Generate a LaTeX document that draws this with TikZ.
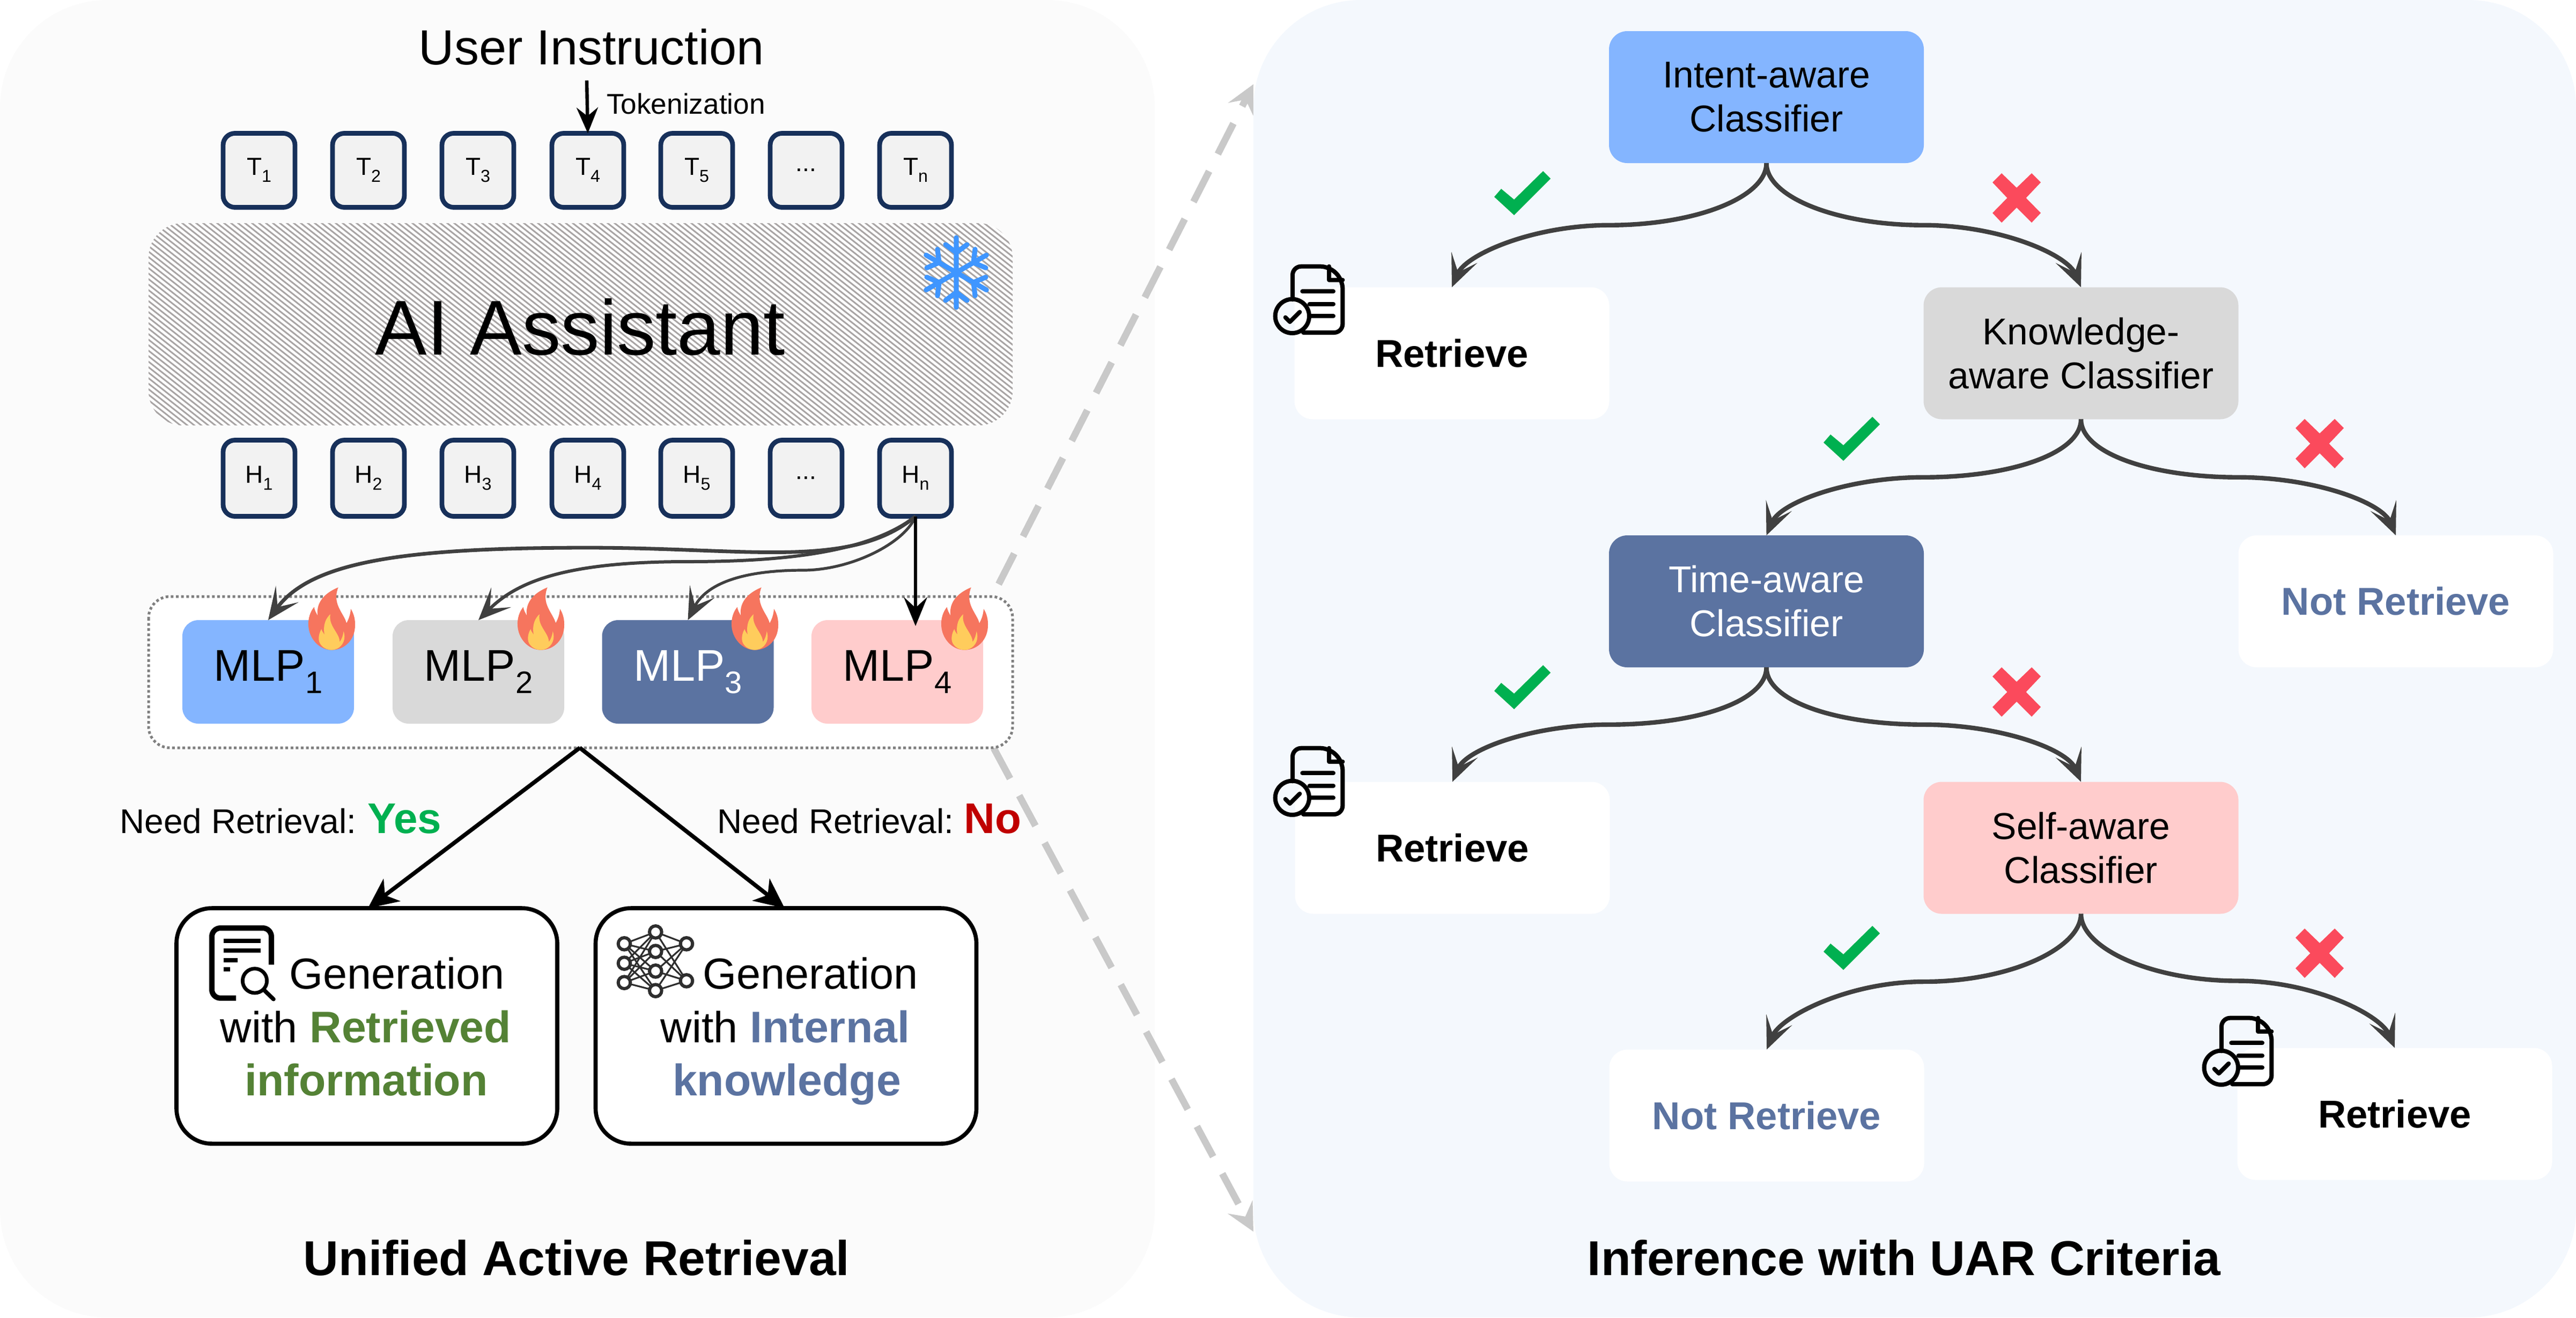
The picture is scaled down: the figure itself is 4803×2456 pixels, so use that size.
\documentclass[tikz,border=0pt]{standalone}
\usepackage{fontspec}
\usepackage{graphicx}
\setmainfont{Liberation Sans}
\usetikzlibrary{arrows.meta,calc}
\definecolor{panelL}{HTML}{FBFBFB}
\definecolor{panelR}{HTML}{F4F8FD}
\definecolor{navy}{HTML}{17305A}
\definecolor{tokfill}{HTML}{F2F2F2}
\definecolor{cblue}{HTML}{84B5FF}
\definecolor{cgray}{HTML}{D9D9D9}
\definecolor{cslate}{HTML}{5B73A1}
\definecolor{cpink}{HTML}{FFCCCC}
\definecolor{edgegray}{HTML}{404040}
\definecolor{dashgray}{HTML}{C9C9C9}
\definecolor{dotgray}{HTML}{7F7F7F}
\definecolor{hatch}{HTML}{A8A4A4}
\definecolor{flameo}{HTML}{F6755E}
\definecolor{flamey}{HTML}{FFCC5C}
\definecolor{snow}{HTML}{3F96FF}
\definecolor{yesgreen}{HTML}{00B050}
\definecolor{nored}{HTML}{C00000}
\definecolor{retgreen}{HTML}{548235}
\definecolor{crossred}{HTML}{FB4A5C}
\newcommand\myfs[1]{\fontsize{#1pt}{#1pt}\selectfont}
\newcommand\lowsub[1]{\raisebox{-.28em}{\scalebox{.7}{#1}}}
\newcommand\threedots{.{}.{}.}
\tikzset{
  tokbox/.style={draw=navy,line width=2.2pt,fill=tokfill,rounded corners=5.5pt,minimum width=33.5pt,minimum height=34.5pt,inner sep=0pt,outer sep=0pt,font=\myfs{11.5}},
  hidbox/.style={tokbox,minimum height=35.5pt},
  mlpbox/.style={rounded corners=7.5pt,minimum width=80pt,minimum height=48.25pt,inner sep=0pt,outer sep=0pt,font=\myfs{20.7}},
  genbox/.style={draw=black,line width=1.9pt,fill=white,rounded corners=16.5pt,minimum width=177.5pt,minimum height=109.75pt,inner sep=0pt,outer sep=0pt},
  txt/.style={anchor=base,inner sep=0pt,outer sep=0pt},
  genlabel/.style={txt,font=\myfs{20.25}},
  genbold/.style={txt,font=\myfs{20.6}\bfseries},
  needlabel/.style={txt,font=\myfs{16}},
  titlelabel/.style={txt,font=\myfs{22.8}\bfseries},
  treebox/.style={rounded corners=8.5pt,minimum width=146.75pt,minimum height=61.5pt,inner sep=0pt,outer sep=0pt,align=center,font=\myfs{17.4}},
  leafbox/.style={treebox,fill=white,font=\myfs{18.1}\bfseries,text height=13pt},
  edge/.style={draw=edgegray,line width=2.1pt,-{Stealth[length=15pt,width=13pt,inset=7.5pt]}},
  dashedge/.style={draw=dashgray,line width=3.2pt,dash pattern=on 16pt off 9pt,-{Stealth[length=13pt,width=13pt,inset=5pt]}},
  blackarrow/.style={draw=black,line width=1.4pt,-{Stealth[length=13.5pt,width=11pt,inset=5pt]}},
}
\newcommand\flame[1]{%
\begin{scope}[shift={(#1,1080)},x=.08333pt,y=-.08333pt]
\fill[flameo] (272,45) .. controls (210,70) and (145,120) .. (157,203) .. controls (150,190) and (140,175) .. (137,155) .. controls (115,180) and (103,220) .. (105,255) .. controls (107,330) and (165,395) .. (235,395) .. controls (310,395) and (367,335) .. (366,255) .. controls (367,220) and (358,190) .. (342,165) .. controls (340,195) and (332,220) .. (318,245) .. controls (305,190) and (235,140) .. (272,45) -- cycle;
\fill[flamey] (228,195) .. controls (205,215) and (185,250) .. (195,310) .. controls (190,300) and (180,290) .. (178,278) .. controls (168,295) and (162,315) .. (163,335) .. controls (165,370) and (200,395) .. (235,395) .. controls (275,395) and (308,360) .. (307,320) .. controls (307,305) and (304,298) .. (302,290) .. controls (300,310) and (292,335) .. (280,350) .. controls (280,300) and (215,260) .. (228,195) -- cycle;
\end{scope}}
\newcommand\doccheck[2]{%
\begin{scope}[shift={(#1,#2)},x=.08333pt,y=-.08333pt,line width=2pt,line cap=round,line join=round]
\draw[rounded corners=4pt] (150,235) -- (150,50) -- (355,50) -- (430,125) -- (430,420) -- (210,420);
\draw (355,50) -- (355,125) -- (430,125);
\draw (205,190) -- (378,190) (245,260) -- (378,260) (245,328) -- (378,328);
\draw (148,328) circle[radius=95];
\draw (110,335) -- (135,360) -- (190,305);
\end{scope}}
\newcommand\checkmk[2]{\fill[yesgreen,shift={(#1,#2)}] (-52,7) -- (-39,-8) -- (-15,12) -- (39,-41) -- (53,-27) -- (-15,41) -- cycle;}
\newcommand\crossmk[2]{\fill[crossred,shift={(#1,#2)}] (-28,-46) -- (-45,-29) -- (-17.5,0) -- (-45,28) -- (-28,46) -- (0,18) -- (28,46) -- (45,28) -- (17.5,0) -- (45,-29) -- (28,-46) -- (0,-19) -- cycle;}
\newcommand\treeedge[3]{%
\coordinate (tm) at ($(#1.south)!.5!(#2.north)$);
\draw[edge] (#1.south) .. controls +(0,64) and +(#3*-161,0) .. (tm) .. controls +(#3*140,0) and +(#3*-26,-62) .. (#2.north);}
\begin{document}
\begin{tikzpicture}[x=.25pt,y=-.25pt]
\useasboundingbox (0,0) rectangle (4803,2456);
\fill[panelL,rounded corners=50pt] (0,0) rectangle (2153,2456);
\fill[panelR,rounded corners=50pt] (2337,0) rectangle (4803,2456);
\coordinate (guideA) at (1862,1089);
\coordinate (guideB) at (2337,157);
\coordinate (guideC) at (1853,1395);
\coordinate (guideD) at (2337,2296);
\draw[dashedge] (guideA) -- (guideB);
\draw[dashedge] (guideC) -- (guideD);
\node[txt,font=\myfs{23}] (ui) at (1103,120) {User Instruction};
\node[txt,font=\myfs{13.3}] (tokz) at (1279,212) {Tokenization};
\coordinate (tokA) at (1094,150);
\foreach \n/\x/\t in {t1/483/T\lowsub{1},t2/687/T\lowsub{2},t3/891/T\lowsub{3},t4/1096/T\lowsub{4},t5/1299/T\lowsub{5},t6/1503/\threedots,t7/1707/T\lowsub{n}}
  \node[tokbox] (\n) at (\x,317.5) {\t};
\draw[black,line width=1.6pt,-{Stealth[length=12pt,width=10pt,inset=4pt]}] (tokA) -- (t4.north);
\fill[white,rounded corners=16pt] (277,416) rectangle (1888,793);
\begin{scope}
\clip[rounded corners=16pt] (277,416) rectangle (1888,793);
\foreach \i in {-600,-587,...,2000}
  \draw[hatch,line width=.75pt] (\i,300) -- (\i+760,900);
\end{scope}
\node[txt,font=\myfs{36.2}] (ai) at (1082,661) {AI Assistant};
\begin{scope}[shift={(1783,508)},line width=2.3pt,line cap=round]
\foreach \a in {0,60,...,300}
  \draw[snow,rotate=\a] (0,0) -- (0,-65) (0,-37) -- (-20,-52) (0,-37) -- (20,-52);
\end{scope}
\foreach \n/\x/\t in {h1/483/H\lowsub{1},h2/687/H\lowsub{2},h3/891/H\lowsub{3},h4/1096/H\lowsub{4},h5/1299/H\lowsub{5},h6/1503/\threedots,h7/1707/H\lowsub{n}}
  \node[hidbox] (\n) at (\x,891.5) {\t};
\draw[dotgray,fill=white,line width=1.25pt,dash pattern=on 1.25pt off 1.15pt,rounded corners=10pt] (277,1112) rectangle (1888,1394);
\node[mlpbox,fill=cblue] (m1) at (500,1252.5) {MLP\lowsub{1}};
\node[mlpbox,fill=cgray] (m2) at (892,1252.5) {MLP\lowsub{2}};
\node[mlpbox,fill=cslate,text=white] (m3) at (1282.5,1252.5) {MLP\lowsub{3}};
\node[mlpbox,fill=cpink] (m4) at (1673,1252.5) {MLP\lowsub{4}};
\coordinate (apex) at (1081,1394);
\coordinate (c1) at (1096,1021);
\coordinate (c2) at (1280,1047);
\coordinate (c3) at (1497,1063);
\coordinate (m4in) at (1707,1167);
\draw[edge,line width=1.7pt] (h7.south) .. controls +(-120,100) and +(300,0) .. (c1) .. controls +(-340,0) and +(80,-110) .. (m1.north);
\draw[edge,line width=1.5pt] (h7.south) .. controls +(-90,70) and +(170,0) .. (c2) .. controls +(-230,0) and +(70,-70) .. (m2.north);
\draw[edge,line width=1.3pt] (h7.south) .. controls +(-20,50) and +(90,0) .. (c3) .. controls +(-130,0) and +(30,-60) .. (m3.north);
\draw[blackarrow] (h7.south) -- (m4in);
\flame{540}\flame{930}\flame{1329}\flame{1720}
\node[needlabel] (nr1) at (444,1553) {Need Retrieval:};
\node[txt,font=\myfs{20}\bfseries,text=yesgreen] (yes) at (754,1553) {Yes};
\node[needlabel] (nr2) at (1558,1553) {Need Retrieval:};
\node[txt,font=\myfs{20}\bfseries,text=nored] (no) at (1851,1553) {No};
\node[genbox] (g1) at (684,1912.5) {};
\node[genbox] (g2) at (1465.5,1912.5) {};
\coordinate (g1in) at (686,1693);
\coordinate (g2in) at (1463,1693);
\draw[black,line width=1.9pt,-{Stealth[length=14pt,width=13pt,inset=4pt]}] (apex) -- (g1in);
\draw[black,line width=1.9pt,-{Stealth[length=14pt,width=13pt,inset=4pt]}] (apex) -- (g2in);
\node[genlabel] (g1a) at (740,1843) {Generation};
\node[genlabel] (g1b) at (682,1943) {with \textbf{\fontsize{20.6pt}{20.6pt}\selectfont\textcolor{retgreen}{Retrieved}}};
\node[genbold,text=retgreen] (g1c) at (683,2042) {information};
\node[genlabel] (g2a) at (1511,1843) {Generation};
\node[genlabel] (g2b) at (1464,1943) {with \textbf{\fontsize{20.6pt}{20.6pt}\selectfont\textcolor{cslate}{Internal}}};
\node[genbold,text=cslate] (g2c) at (1467,2042) {knowledge};
\begin{scope}[shift={(380,1710)},x=.08333pt,y=-.08333pt]
\draw[line width=2.5pt,rounded corners=4pt] (378,265) -- (378,60) -- (45,60) -- (45,452) -- (180,452);
\draw[line width=2pt] (110,132) -- (318,132) (110,187) -- (318,187) (110,240) -- (190,240) (110,291) -- (147,291);
\draw[line width=1.7pt] (285,355) circle[radius=68];
\draw[line width=1.9pt,line cap=round] (340,410) -- (390,458);
\end{scope}
\begin{scope}[shift={(1140,1710)},x=.08333pt,y=-.08333pt]
\foreach \a in {148,257,365} \foreach \b in {82,191,301,410}
  \draw[black!82,line width=.8pt] (72,\a) -- (247,\b);
\foreach \a in {82,191,301,410} \foreach \b in {148,355}
  \draw[black!82,line width=.8pt] (247,\a) -- (420,\b);
\foreach \p in {(72,148),(72,257),(72,365),(247,82),(247,191),(247,301),(247,410),(420,148),(420,355)}
  \draw[black!82,line width=1.5pt,fill=white] \p circle[radius=34];
\end{scope}
\node[titlelabel] (title1) at (1075,2377) {Unified Active Retrieval};
\node[titlelabel] (title2) at (3550,2377) {Inference with UAR Criteria};
\node[treebox,fill=cblue] (intent) at (3293.5,181) {Intent-aware\\[3.1pt]Classifier};
\node[leafbox] (ret1) at (2707,658.5) {Retrieve};
\node[treebox,fill=cgray] (know) at (3880,658.5) {Knowledge-\\[3.1pt]aware Classifier};
\node[treebox,fill=cslate,text=white] (time) at (3293.5,1121) {Time-aware\\[3.1pt]Classifier};
\node[leafbox,text=cslate] (not1) at (4467,1121) {Not Retrieve};
\node[leafbox] (ret2) at (2708,1580.5) {Retrieve};
\node[treebox,fill=cpink] (self) at (3880,1580.5) {Self-aware\\[3.1pt]Classifier};
\node[leafbox,text=cslate] (not2) at (3294,2079.5) {Not Retrieve};
\node[leafbox] (ret3) at (4465,2076.5) {Retrieve};
\treeedge{intent}{ret1}{-1}
\treeedge{intent}{know}{1}
\treeedge{know}{time}{-1}
\treeedge{know}{not1}{1}
\treeedge{time}{ret2}{-1}
\treeedge{time}{self}{1}
\treeedge{self}{not2}{-1}
\treeedge{self}{ret3}{1}
\checkmk{2838}{360}\crossmk{3760}{369}
\checkmk{3452}{818}\crossmk{4325}{827}
\checkmk{2838}{1281}\crossmk{3760}{1290}
\checkmk{3452}{1767}\crossmk{4325}{1777}
\doccheck{2360}{480}
\doccheck{2360}{1378}
\doccheck{4092}{1881}
\end{tikzpicture}
\end{document}
